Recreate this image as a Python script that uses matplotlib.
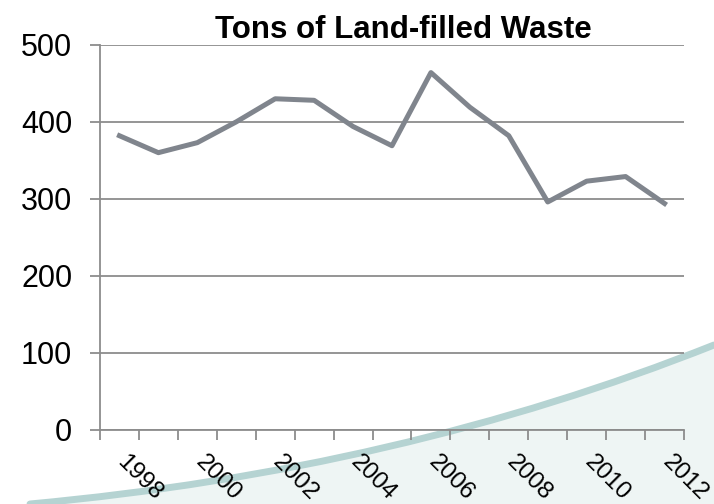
import matplotlib
matplotlib.use("Agg")
import matplotlib.pyplot as plt
from matplotlib.path import Path
from matplotlib.patches import PathPatch
from matplotlib.transforms import ScaledTranslation

plt.rcParams['font.family'] = ['Liberation Sans', 'DejaVu Sans']

years = list(range(1998, 2013))
tons = [382, 360, 373, 400, 430, 428, 394, 369, 464, 419, 382, 296, 323, 329, 294]
label_years = [str(y) for y in years[::2]]

fig = plt.figure(figsize=(7.14, 5.04), dpi=100)

# decorative swoosh in the background
bg = fig.add_axes([0, 0, 1, 1], zorder=0)
bg.set_xlim(0, 714)
bg.set_ylim(504, 0)
bg.axis('off')
p0, c, p2 = (30, 504), (400, 470), (714, 345)
fill = Path([p0, c, p2, (714, 504), p0],
            [Path.MOVETO, Path.CURVE3, Path.CURVE3, Path.LINETO, Path.CLOSEPOLY])
bg.add_patch(PathPatch(fill, facecolor='#eef5f4', edgecolor='none'))
band = Path([p0, c, p2], [Path.MOVETO, Path.CURVE3, Path.CURVE3])
bg.add_patch(PathPatch(band, facecolor='none', edgecolor='#b5d3d2', lw=5, capstyle='round'))

ax = fig.add_axes([0.140, 0.147, 0.818, 0.764], zorder=1)
ax.patch.set_alpha(0)
x = list(range(len(years)))
ax.plot(x, tons, color='#80858d', lw=3.6, solid_joinstyle='round', zorder=3)

ax.set_xlim(-0.5, len(years) - 0.5)
ax.set_ylim(0, 500)
ax.set_yticks([0, 100, 200, 300, 400, 500])
ax.grid(axis='y', color='#8c8c8c', lw=1.3)
ax.set_axisbelow(True)

ax.set_xticks(x[::2])
ax.set_xticklabels(label_years, rotation=-45, ha='left', va='top', rotation_mode='anchor')
ax.set_xticks([i - 0.5 for i in range(len(years) + 1)], minor=True)
ax.tick_params(axis='x', which='major', length=0, pad=15, labelsize=17.5)
ax.tick_params(axis='x', which='minor', length=7, width=1.3, color='#8c8c8c')
ax.tick_params(axis='y', length=7, width=1.3, color='#8c8c8c', pad=13, labelsize=22)

# nudge the slanted year labels to the right
shift = ScaledTranslation(0.09, 0, fig.dpi_scale_trans)
for lbl in ax.get_xticklabels():
    lbl.set_transform(lbl.get_transform() + shift)

for side in ['top', 'right']:
    ax.spines[side].set_visible(False)
for side in ['left', 'bottom']:
    ax.spines[side].set_color('#8c8c8c')
    ax.spines[side].set_linewidth(1.3)

ax.set_title("Tons of Land-filled Waste", fontsize=22.5, fontweight='bold', pad=5, x=0.52)

fig.savefig("out.png", dpi=100)
